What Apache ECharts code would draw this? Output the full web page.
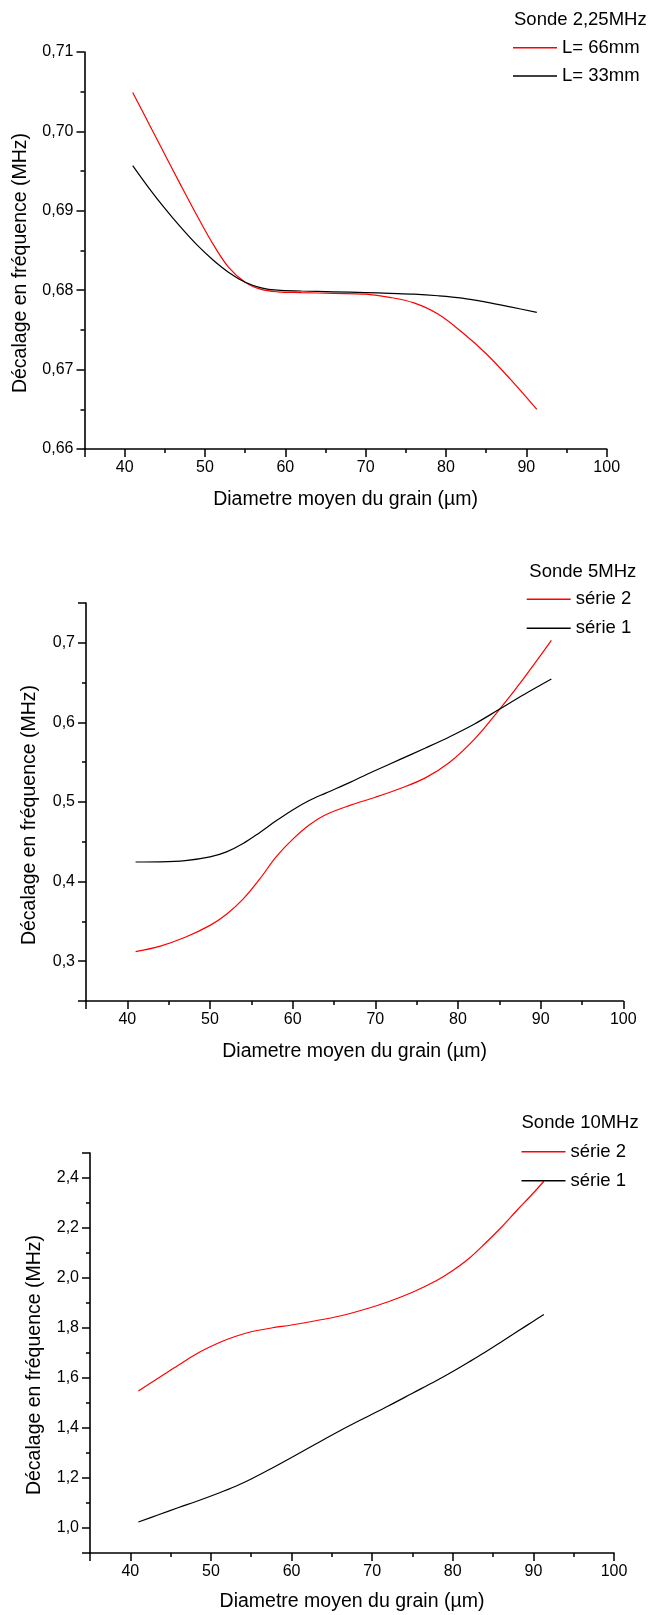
<!DOCTYPE html>
<html>
<head>
<meta charset="utf-8">
<script src="https://cdn.jsdelivr.net/npm/echarts@6/dist/echarts.min.js"></script>
<style>
  html, body { margin: 0; padding: 0; background: #fff; }
  #chart { width: 654px; height: 1615px; }
</style>
</head>
<body>
<div id="chart"></div>
<script>
// Sonde 2,25 MHz : décalage en fréquence selon le diamètre moyen du grain
const grain225 = [41, 43, 45, 47, 49, 51, 53, 55, 57, 59, 62, 66, 70, 73, 76, 79, 82, 85, 88, 91.3];
const shiftL66 = [0.7049, 0.7010, 0.6971, 0.6932, 0.6894, 0.6858, 0.6828, 0.6810, 0.6801, 0.6798,
                  0.6797, 0.6796, 0.6795, 0.6791, 0.6784, 0.6770, 0.6747, 0.6720, 0.6688, 0.6650];
const shiftL33 = [0.6957, 0.6929, 0.6903, 0.6879, 0.6857, 0.6838, 0.6822, 0.6810, 0.6803, 0.6800,
                  0.6799, 0.6798, 0.6797, 0.6796, 0.6795, 0.6793, 0.6790, 0.6785, 0.6779, 0.6772];

// Sonde 5 MHz
const grain5 = [41, 44, 47, 50, 52, 54, 56, 58, 60, 62, 64, 67, 70, 73, 76, 79, 82, 85, 88, 91.3];
const shift5s2 = [0.312, 0.319, 0.330, 0.345, 0.359, 0.378, 0.403, 0.431, 0.453, 0.471,
                  0.484, 0.496, 0.506, 0.517, 0.530, 0.550, 0.579, 0.616, 0.656, 0.703];
const shift5s1 = [0.4246, 0.4248, 0.4263, 0.4310, 0.4373, 0.4478, 0.4615, 0.4763, 0.4900, 0.5018,
                  0.5112, 0.5250, 0.5395, 0.5535, 0.5675, 0.5820, 0.5980, 0.6165, 0.6350, 0.6544];

// Sonde 10 MHz
const grain10 = [41, 43.5, 46, 48.5, 51, 53, 55, 57.5, 60, 63, 66, 69, 72, 75, 78, 80, 82, 84, 86, 88, 90, 91.3];
const shift10s2 = [1.548, 1.600, 1.652, 1.702, 1.741, 1.766, 1.785, 1.800, 1.812, 1.829, 1.848,
                   1.874, 1.905, 1.943, 1.990, 2.030, 2.078, 2.138, 2.202, 2.272, 2.340, 2.387];
const shift10s1 = [1.024, 1.053, 1.082, 1.110, 1.140, 1.166, 1.196, 1.238, 1.282, 1.336, 1.389,
                   1.439, 1.488, 1.539, 1.590, 1.626, 1.664, 1.703, 1.744, 1.786, 1.827, 1.854];

// axis ranges
const xRange = [35, 100];
const yRange225 = [0.66, 0.71];
const yRange5 = [0.25, 0.75];
const yRange10 = [0.9, 2.5];

const FONT = '"Liberation Sans", Arial, sans-serif';
const xTitle = 'Diametre moyen du grain (µm)';
const yTitle = 'Décalage en fréquence (MHz)';

function pairs(xs, ys) { return xs.map((x, i) => [x, ys[i]]); }
function comma(d) { return v => v.toFixed(d).replace('.', ','); }

const lineAxis = { lineStyle: { color: '#000', width: 1.6 } };
const tickMajor = { show: true, length: 8, lineStyle: { color: '#000', width: 1.5 } };
const tickMinor = { show: true, splitNumber: 2, length: 4, lineStyle: { color: '#000', width: 1.5 } };

function xAxis(gridIndex, gap) {
  return {
    type: 'value', gridIndex, min: xRange[0], max: xRange[1], splitNumber: 6,
    name: xTitle, nameLocation: 'middle', nameGap: gap,
    nameTextStyle: { fontFamily: FONT, fontSize: 19.5, color: '#000' },
    axisLine: lineAxis, axisTick: tickMajor, minorTick: tickMinor,
    splitLine: { show: false },
    axisLabel: { color: '#000', fontFamily: FONT, fontSize: 16, margin: 11,
                 showMinLabel: false, showMaxLabel: true }
  };
}

function yAxis(gridIndex, range, opts, digits) {
  return Object.assign({
    type: 'value', gridIndex, min: range[0], max: range[1],
    axisLine: lineAxis, axisTick: tickMajor, minorTick: tickMinor,
    splitLine: { show: false },
    axisLabel: { color: '#000', fontFamily: FONT, fontSize: 16, margin: 11, formatter: comma(digits) }
  }, opts);
}

function line(name, xi, data, color) {
  return {
    type: 'line', name, xAxisIndex: xi, yAxisIndex: xi, data,
    smooth: 0.35, symbol: 'none', showSymbol: false,
    lineStyle: { color, width: 1.2 }, itemStyle: { color },
    silent: true, animation: false
  };
}

// legend entries drawn as plain line samples
function legend(left, top, gap, names) {
  return {
    orient: 'vertical', left, top, padding: 0, itemGap: gap, selectedMode: false,
    icon: 'rect', itemWidth: 44, itemHeight: 1.5, data: names,
    textStyle: { fontFamily: FONT, fontSize: 18.5, color: '#000', lineHeight: 20 }
  };
}

function heading(text, x, y) {
  return { type: 'text', x, y, style: { text, fontFamily: FONT, fontSize: 18.5, fill: '#000', verticalAlign: 'middle' } };
}

// vertical y-axis title, read bottom to top
function yName(x, y) {
  return { type: 'text', x, y, rotation: Math.PI / 2,
    style: { text: yTitle, fontFamily: FONT, fontSize: 19.5, fill: '#000', align: 'center', verticalAlign: 'middle' } };
}

const chart = echarts.init(document.getElementById('chart'), null, { renderer: 'canvas' });
chart.setOption({
  backgroundColor: '#fff',
  animation: false,
  grid: [
    { left: 84.5, top: 52, width: 522.2, height: 397 },
    { left: 86, top: 603, width: 537.3, height: 398 },
    { left: 90, top: 1153, width: 524, height: 400 }
  ],
  xAxis: [xAxis(0, 41), xAxis(1, 40.5), xAxis(2, 39)],
  yAxis: [
    yAxis(0, yRange225, { interval: 0.01 }, 2),
    yAxis(1, yRange5, { splitNumber: 5, axisLabel: { color: '#000', fontFamily: FONT, fontSize: 16, margin: 11,
          formatter: comma(1), showMinLabel: false, showMaxLabel: false } }, 1),
    yAxis(2, yRange10, { splitNumber: 8, axisLabel: { color: '#000', fontFamily: FONT, fontSize: 16, margin: 11,
          formatter: comma(1), showMinLabel: false, showMaxLabel: false } }, 1)
  ],
  legend: [
    legend(513, 37.7, 8.3, ['L= 66mm', 'L= 33mm']),
    legend(526.7, 589.3, 9, ['série 2', 'série 1']),
    legend(521.5, 1141.7, 9, ['série 2', 'série 1'])
  ],
  graphic: [
    heading('Sonde 2,25MHz', 514, 19.5),
    heading('Sonde 5MHz', 529.3, 571.7),
    heading('Sonde 10MHz', 521.5, 1123),
    yName(21, 263),
    yName(30, 815),
    yName(35, 1365)
  ],
  series: [
    line('L= 66mm', 0, pairs(grain225, shiftL66), '#ff0000'),
    line('L= 33mm', 0, pairs(grain225, shiftL33), '#000000'),
    line('série 2', 1, pairs(grain5, shift5s2), '#ff0000'),
    line('série 1', 1, pairs(grain5, shift5s1), '#000000'),
    line('série 2', 2, pairs(grain10, shift10s2), '#ff0000'),
    line('série 1', 2, pairs(grain10, shift10s1), '#000000')
  ]
});
</script>
</body>
</html>
